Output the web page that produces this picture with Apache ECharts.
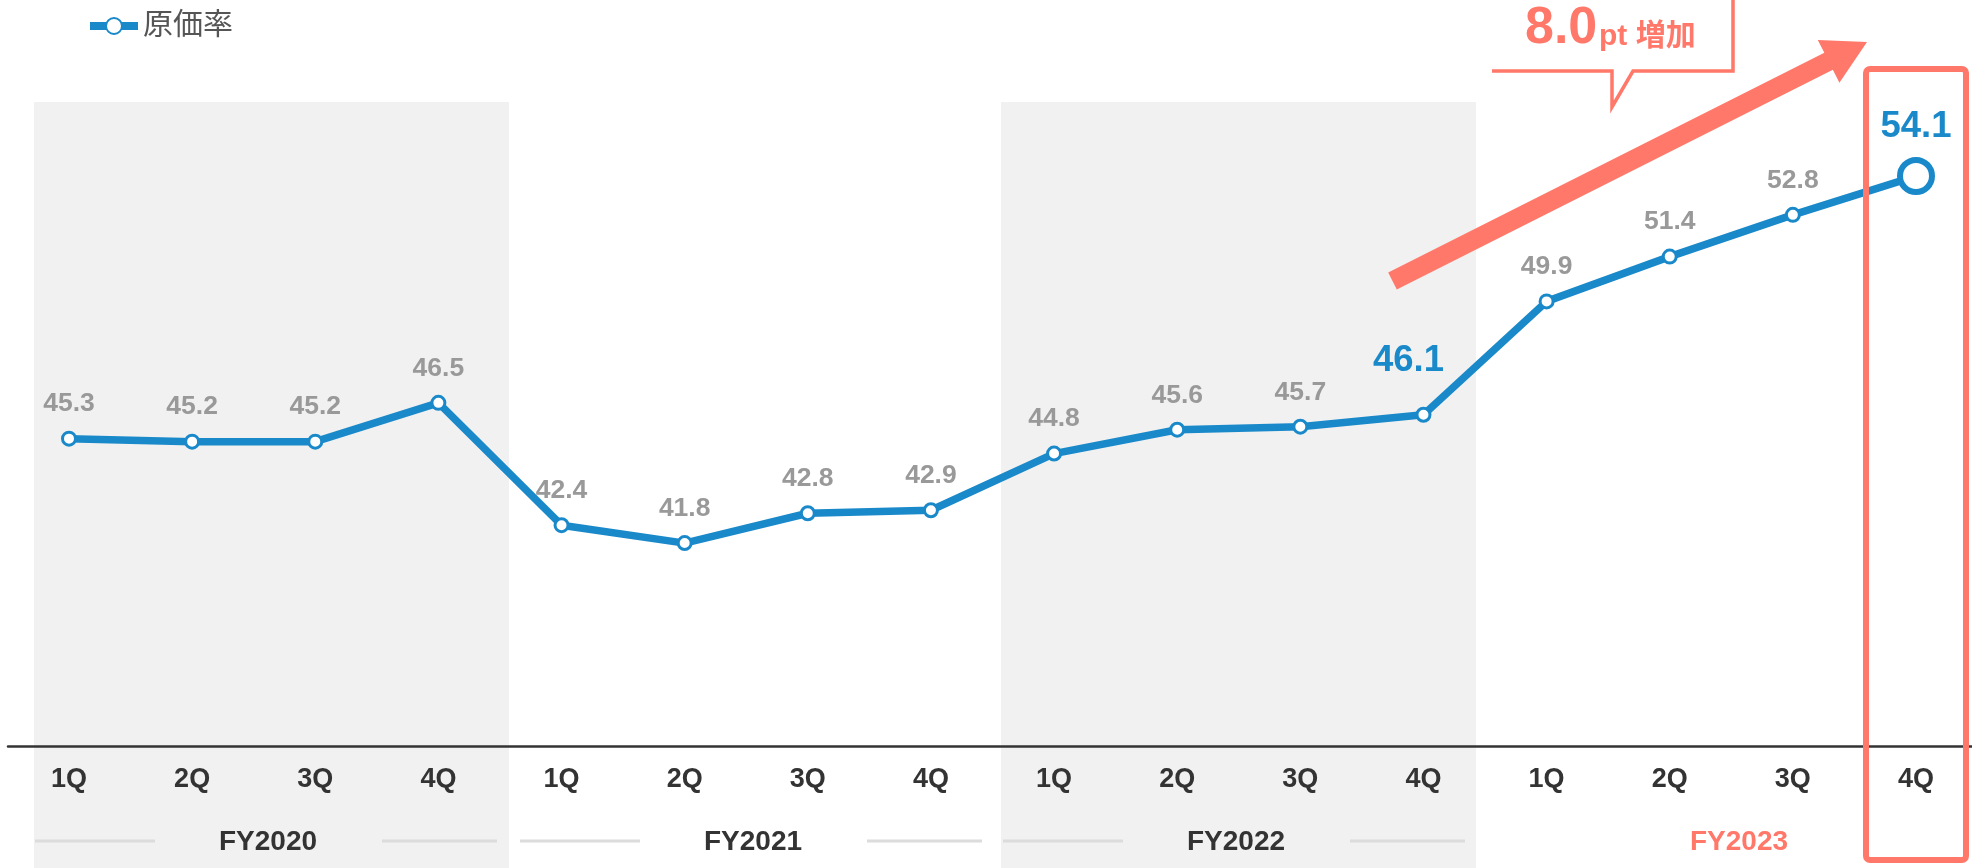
<!DOCTYPE html>
<html>
<head>
<meta charset="utf-8">
<script src="https://cdn.jsdelivr.net/npm/echarts@6/dist/echarts.min.js"></script>
<style>
  html, body { margin: 0; padding: 0; background: #ffffff; }
  #chart { width: 1972px; height: 868px; }
</style>
</head>
<body>
<div id="chart"></div>
<script>
// ---- data ----
const quarters = ['1Q', '2Q', '3Q', '4Q', '1Q', '2Q', '3Q', '4Q', '1Q', '2Q', '3Q', '4Q', '1Q', '2Q', '3Q', '4Q'];
const fiscalYears = ['FY2020', 'FY2021', 'FY2022', 'FY2023'];
const costRatio = [45.3, 45.2, 45.2, 46.5, 42.4, 41.8, 42.8, 42.9, 44.8, 45.6, 45.7, 46.1, 49.9, 51.4, 52.8, 54.1];
const seriesName = '原価率';
const baseIndex = 11;   // FY2022 4Q
const latestIndex = 15; // FY2023 4Q

// ---- styling ----
const BLUE = '#1a89ca';
const SALMON = '#ff786a';
const LATIN = '"Liberation Sans", Arial, sans-serif';
const CJK = '"Liberation Sans", "Noto Sans CJK JP", sans-serif';

// fiscal-year strip under the axis (left edge, pitch, shaded band width)
const stripLeft = 34, stripPitch = 483.5, bandWidth = 475;
const yearLabelX = [268, 753, 1236, 1739];

const increase = (costRatio[latestIndex] - costRatio[baseIndex]).toFixed(1);

const seriesData = costRatio.map((v, i) => {
  if (i === baseIndex) {
    return {
      value: v,
      label: { color: BLUE, fontSize: 36.5, distance: 27, offset: [-15, 0] }
    };
  }
  if (i === latestIndex) {
    return {
      value: v,
      symbolSize: 32,
      itemStyle: { borderWidth: 6 },
      label: { color: BLUE, fontSize: 36.5, distance: 12 }
    };
  }
  return v;
});

const chart = echarts.init(document.getElementById('chart'), null, { renderer: 'canvas' });

chart.setOption({
  animation: false,
  backgroundColor: '#ffffff',
  legend: {
    data: [seriesName],
    left: 81,
    top: 6,
    itemWidth: 48,
    itemHeight: 20,
    lineStyle: { width: 8 },
    textStyle: { fontSize: 30, color: '#555555', fontFamily: CJK }
  },
  grid: [
    // plotting grid: first and last quarter sit at the grid edges
    { left: 69, top: 0, right: 56, height: 746, containLabel: false },
    // full-width baseline
    { left: 8, top: 0, right: 0, height: 746, containLabel: false }
  ],
  xAxis: [{
    type: 'category',
    gridIndex: 0,
    data: quarters,
    boundaryGap: false,
    axisLine: { show: false },
    axisTick: { show: false },
    axisLabel: { color: '#333333', fontSize: 27, fontWeight: 'bold', fontFamily: LATIN, margin: 20 },
    splitLine: { show: false }
  }, {
    type: 'value',
    gridIndex: 1,
    min: 0,
    max: 1,
    axisLine: { show: true, onZero: false, lineStyle: { color: '#333333', width: 2.5 } },
    axisTick: { show: false },
    axisLabel: { show: false },
    splitLine: { show: false }
  }],
  yAxis: [{
    type: 'value',
    gridIndex: 0,
    min: 35,
    max: 60,
    show: false,
    splitLine: { show: false }
  }, {
    type: 'value',
    gridIndex: 1,
    show: false,
    splitLine: { show: false }
  }],
  series: [{
    type: 'line',
    name: seriesName,
    xAxisIndex: 0,
    yAxisIndex: 0,
    data: seriesData,
    color: BLUE,
    symbol: 'circle',
    symbolSize: 13,
    lineStyle: { color: BLUE, width: 7.5 },
    itemStyle: { color: '#ffffff', borderColor: BLUE, borderWidth: 3 },
    label: {
      show: true,
      position: 'top',
      distance: 13,
      color: '#999999',
      fontSize: 26.5,
      fontWeight: 'bold',
      fontFamily: LATIN
    },
    z: 5
  }]
});

// ---- decorations: shaded fiscal-year bands, year labels, callout, arrow, highlight box ----
const elements = [];

fiscalYears.forEach((fy, i) => {
  const left = stripLeft + i * stripPitch;
  if (i % 2 === 0 && i < fiscalYears.length - 1) {
    elements.push({
      type: 'rect', z: -10, silent: true,
      shape: { x: left, y: 102, width: bandWidth, height: 868 - 102 },
      style: { fill: '#f1f1f1' }
    });
  }
  const cx = yearLabelX[i];
  const isLatest = i === fiscalYears.length - 1;
  if (!isLatest) {
    [[cx - 233, cx - 113], [cx + 114, cx + 229]].forEach(([x1, x2]) => {
      elements.push({
        type: 'line', z: -5, silent: true,
        shape: { x1: x1, y1: 841, x2: x2, y2: 841 },
        style: { stroke: '#dcdcdc', lineWidth: 3 }
      });
    });
  }
  elements.push({
    type: 'text', z: 10, silent: true,
    style: {
      text: fy, x: cx, y: 842, align: 'center', verticalAlign: 'middle',
      font: 'bold 28px ' + LATIN, fill: isLatest ? SALMON : '#333333'
    }
  });
});

// trend arrow
(function () {
  const S = [1392.5, 281], T = [1867, 42];
  const dx = T[0] - S[0], dy = T[1] - S[1];
  const len = Math.hypot(dx, dy);
  const u = [dx / len, dy / len], n = [-u[1], u[0]];
  const headLen = 43, shaftHalf = 9.5, headHalf = 24;
  const B = [T[0] - headLen * u[0], T[1] - headLen * u[1]];
  const p = (P, k) => [P[0] + k * n[0], P[1] + k * n[1]];
  elements.push({
    type: 'polygon', z: 20, silent: true,
    shape: { points: [p(S, shaftHalf), p(B, shaftHalf), p(B, headHalf), T, p(B, -headHalf), p(B, -shaftHalf), p(S, -shaftHalf)] },
    style: { fill: SALMON }
  });
})();

// callout frame with tail
elements.push({
  type: 'polyline', z: 20, silent: true,
  shape: { points: [[1492, 71], [1612, 71], [1612, 107], [1633, 71], [1733, 71], [1733, -5]] },
  style: { stroke: SALMON, lineWidth: 3.5, fill: null, lineJoin: 'miter' }
});
elements.push({
  type: 'text', z: 20, silent: true,
  style: { text: increase, x: 1525, y: 29, align: 'left', verticalAlign: 'middle', font: 'bold 52px ' + LATIN, fill: SALMON }
});
elements.push({
  type: 'text', z: 20, silent: true,
  style: { text: 'pt 増加', x: 1599, y: 37, align: 'left', verticalAlign: 'middle', font: 'bold 30px ' + CJK, fill: SALMON }
});

// box around the latest quarter
const latestX = chart.convertToPixel({ xAxisIndex: 0 }, latestIndex);
elements.push({
  type: 'rect', z: 20, silent: true,
  shape: { x: latestX - 50, y: 69, width: 100, height: 791, r: 4 },
  style: { stroke: SALMON, lineWidth: 6, fill: null }
});

chart.setOption({ graphic: { elements: elements } });
</script>
</body>
</html>
